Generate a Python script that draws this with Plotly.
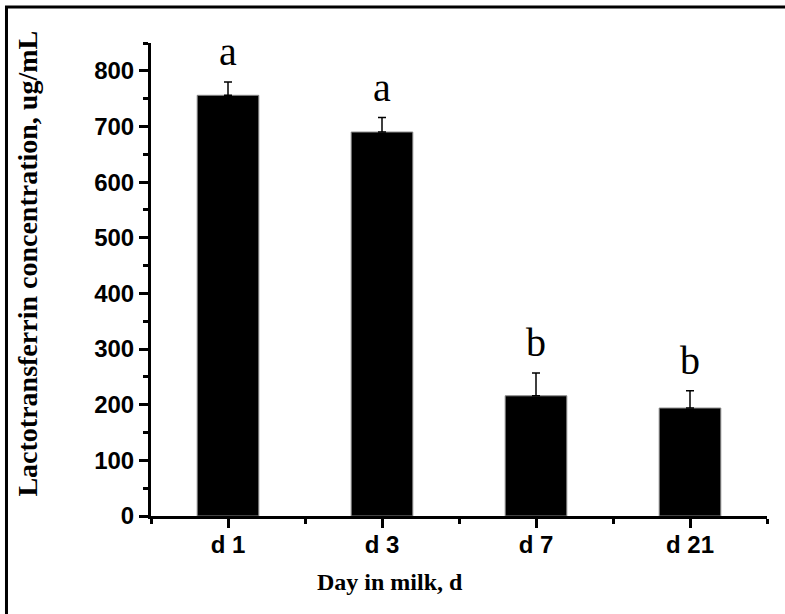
import plotly.graph_objects as go

categories = ["d 1", "d 3", "d 7", "d 21"]
means = [756, 690, 216, 194]
errors = [24, 26, 41, 31]
letters = ["a", "a", "b", "b"]
y_ticks = [0, 100, 200, 300, 400, 500, 600, 700, 800]

xpos = list(range(len(categories)))

fig = go.Figure()
fig.add_trace(go.Bar(
    x=xpos, y=means, width=0.4,
    marker=dict(color="black", line=dict(color="#888888", width=1)),
    error_y=dict(type="data", array=errors, arrayminus=[0] * len(errors),
                 symmetric=False, color="black", thickness=1.5, width=4),
    showlegend=False,
))

for xi, m, e, lab in zip(xpos, means, errors, letters):
    fig.add_annotation(x=xi, y=m + e, text=lab, showarrow=False,
                       yanchor="bottom", yshift=6,
                       font=dict(family="Liberation Serif", size=40, color="black"))

fig.add_annotation(xref="paper", yref="paper", x=0.388, y=-0.14, text="Day in milk, d",
                   showarrow=False, yanchor="middle",
                   font=dict(family="Liberation Serif", size=24, color="black", weight="bold"))
fig.add_annotation(xref="paper", yref="paper", x=-0.201, y=0.534,
                   text="Lactotransferrin concentration, ug/mL", textangle=-90,
                   showarrow=False, xanchor="center", yanchor="middle",
                   font=dict(family="Liberation Serif", size=28, color="black", weight="bold"))

# outer frame (left and top edges visible)
fig.add_shape(type="rect", xref="paper", yref="paper",
              x0=-0.2346, x1=1.3, y0=-0.5, y1=1.076,
              line=dict(color="black", width=3), fillcolor="rgba(0,0,0,0)")

fig.update_layout(
    width=785, height=614,
    margin=dict(l=151, r=18, t=43, b=98),
    paper_bgcolor="white", plot_bgcolor="white",
    bargap=0.6,
)
fig.update_xaxes(
    range=[-0.5, 3.5], tickvals=xpos, ticktext=categories,
    showline=True, linecolor="black", linewidth=3,
    ticks="outside", ticklen=9, tickwidth=3, tickcolor="black",
    minor=dict(tickvals=[-0.5, 0.5, 1.5, 2.5, 3.5], ticks="outside", ticklen=5,
               tickwidth=3, tickcolor="black"),
    showgrid=False, zeroline=False, ticklabelstandoff=-4,
    tickfont=dict(family="Liberation Sans", size=24, color="black", weight="bold"),
)
fig.update_yaxes(
    range=[0, 850], tickvals=y_ticks,
    showline=True, linecolor="black", linewidth=3,
    ticks="outside", ticklen=9, tickwidth=3, tickcolor="black",
    minor=dict(dtick=50, ticks="outside", ticklen=5, tickwidth=3, tickcolor="black"),
    showgrid=False, zeroline=False,
    tickfont=dict(family="Liberation Sans", size=24, color="black", weight="bold"),
)

fig.write_html(
    "out.html",
    config={"displayModeBar": False},
    post_script="document.body.style.margin='0';document.body.style.overflow='hidden';",
)
